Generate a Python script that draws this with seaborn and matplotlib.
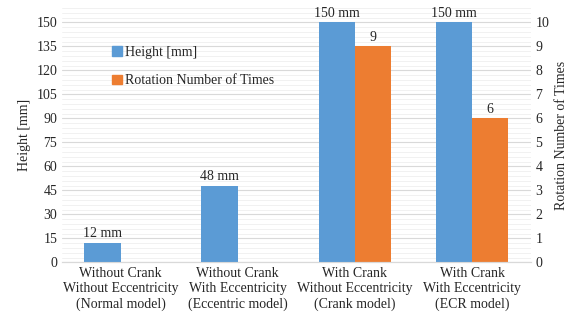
import matplotlib
matplotlib.use('Agg')
import matplotlib.pyplot as plt
import pandas as pd
import seaborn as sns
from matplotlib.patches import Patch
from matplotlib.ticker import MultipleLocator

modelos = ['Without Crank\nWithout Eccentricity\n(Normal model)',
           'Without Crank\nWith Eccentricity\n(Eccentric model)',
           'With Crank\nWithout Eccentricity\n(Crank model)',
           'With Crank\nWith Eccentricity\n(ECR model)']
altura = [12, 48, 150, 150]
rotaciones = [0, 0, 9, 6]
series = ['Height [mm]', 'Rotation Number of Times']
colores = ['#5B9BD5', '#ED7D31']

sns.set_style('white')
plt.rcParams['font.family'] = ['Liberation Serif', 'DejaVu Serif']
tam = 10

# cada eje dibuja su serie; la otra va en cero para que el dodge reserve el hueco
ceros = [0] * len(modelos)
datos_altura = pd.DataFrame({'modelo': modelos * 2, 'valor': altura + ceros,
                             'serie': [series[0]] * 4 + [series[1]] * 4})
datos_rot = pd.DataFrame({'modelo': modelos * 2, 'valor': ceros + rotaciones,
                          'serie': [series[0]] * 4 + [series[1]] * 4})

fig, ax = plt.subplots(figsize=(5.8, 3.22), dpi=100)
ax2 = ax.twinx()

sns.barplot(data=datos_altura, x='modelo', y='valor', hue='serie', hue_order=series,
            palette=colores, order=modelos, width=0.62, ax=ax, legend=False,
            saturation=1, gap=0, linewidth=0)
sns.barplot(data=datos_rot, x='modelo', y='valor', hue='serie', hue_order=series,
            palette=colores, order=modelos, width=0.62, ax=ax2, legend=False,
            saturation=1, gap=0, linewidth=0)

ax.bar_label(ax.containers[0], labels=[f'{v} mm' for v in altura], padding=2, fontsize=tam)
ax2.bar_label(ax2.containers[1], labels=[str(v) if v else '' for v in rotaciones],
              padding=2, fontsize=tam)

ax.set_ylim(0, 159)
ax2.set_ylim(0, 159 / 15)
ax.set_yticks(range(0, 151, 15))
ax2.set_yticks(range(0, 11))
ax2.yaxis.set_minor_locator(MultipleLocator(0.2))

# rejilla en el eje de abajo para que quede detrás de todas las barras
ax.grid(False)
ax2.grid(axis='y', which='major', color='#d9d9d9', linewidth=0.8)
ax2.grid(axis='y', which='minor', color='#efefef', linewidth=0.6)
ax2.set_axisbelow(True)
ax2.set_zorder(0)
ax.set_zorder(1)
ax.patch.set_visible(False)

ax.set_xlabel('')
ax.set_ylabel('Height [mm]', fontsize=tam)
ax2.set_ylabel('Rotation Number of Times', fontsize=tam)
ax.tick_params(axis='both', length=0, labelsize=tam, which='both')
ax2.tick_params(axis='both', length=0, labelsize=tam, which='both')
for a in (ax, ax2):
    for s in ['top', 'left', 'right']:
        a.spines[s].set_visible(False)
    a.spines['bottom'].set_color('#d9d9d9')

handles = [Patch(color=c, label=s) for c, s in zip(colores, series)]
ax.legend(handles=handles, loc='upper left', bbox_to_anchor=(0.08, 0.9), frameon=False,
          handlelength=0.7, handleheight=0.7, handletextpad=0.2, labelspacing=1.1,
          fontsize=tam)

fig.subplots_adjust(left=0.107, right=0.915, top=0.975, bottom=0.185)
fig.savefig('out.png')
